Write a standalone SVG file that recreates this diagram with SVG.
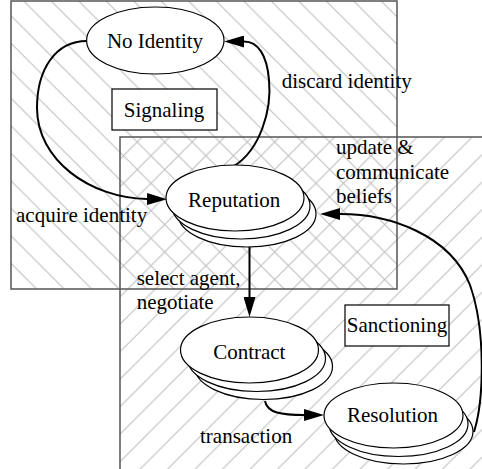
<svg xmlns="http://www.w3.org/2000/svg" width="482" height="469" viewBox="0 0 482 469">
<style>
text{font-family:"Liberation Serif","Times New Roman",serif;font-size:21px;fill:#000}
.n{text-anchor:middle}
.el{fill:#fff;stroke:#000;stroke-width:1.2}
.lb{fill:#fff;stroke:#000;stroke-width:1.2}
.frame{fill:none;stroke:#555;stroke-width:1.5}
.hatch{stroke:#bbb;stroke-width:1;fill:none}
.edge{fill:none;stroke:#000;stroke-width:2;marker-end:url(#ah)}
</style>
<defs>
<pattern id="pBack" patternUnits="userSpaceOnUse" width="27.5" height="27.5" patternTransform="translate(22.7,0)">
<path class="hatch" d="M-1,-1 L28.5,28.5 M-2,25.5 L2,29.5 M25.5,-2 L29.5,2"/>
</pattern>
<pattern id="pFwd" patternUnits="userSpaceOnUse" width="27.5" height="27.5" patternTransform="translate(4.2,0)">
<path class="hatch" d="M-1,28.5 L28.5,-1 M-2,2 L2,-2 M25.5,29.5 L29.5,25.5"/>
</pattern>
<marker id="ah" markerUnits="userSpaceOnUse" markerWidth="20" markerHeight="12" viewBox="0 0 20 12" refX="0" refY="6" orient="auto">
<path d="M0,0 L20,6 L0,12 z" fill="#000"/>
</marker>
</defs>
<rect width="482" height="469" fill="#fff"/>
<g id="clusters">
<rect x="11" y="1" width="386" height="288" fill="url(#pBack)"/>
<rect x="120" y="137" width="400" height="400" fill="url(#pFwd)"/>
<rect class="frame" x="11" y="1" width="386" height="288"/>
<rect class="frame" x="120" y="137" width="400" height="400"/>
</g>
<g id="signaling-label">
<rect class="lb" x="112" y="89" width="105" height="41"/>
<text class="n" x="164" y="117">Signaling</text>
</g>
<g id="sanctioning-label">
<rect class="lb" x="345" y="305" width="104" height="41"/>
<text class="n" x="397" y="332">Sanctioning</text>
</g>
<g id="connectors">
<path class="edge" d="M87,41 C55,41 37,70 37,108 C37,160 90,198 147,199"/>
<path class="edge" d="M234,166 C260,150 272,110 269,80 C267,55 258,41.5 244,41.5"/>
<path class="edge" d="M249.5,247 L249.5,297"/>
<path class="edge" d="M265,401 C267,413 282,415 304,415"/>
<path class="edge" d="M474,432 C484,400 486,330 470,285 C450,235 390,214 340,214"/>
<text x="16" y="222">acquire identity</text>
<text x="281.7" y="88">discard identity</text>
<text x="336" y="154">update &amp;</text>
<text x="336" y="178.5">communicate</text>
<text x="336" y="203">beliefs</text>
<text x="136.7" y="285">select agent,</text>
<text x="136.7" y="309">negotiate</text>
<text x="200" y="443">transaction</text>
</g>
<g id="no-identity">
<ellipse class="el" cx="155.3" cy="40.5" rx="68.7" ry="33.5"/>
<text class="n" x="155" y="48">No Identity</text>
</g>
<g id="reputation">
<ellipse class="el" cx="247" cy="214" rx="69" ry="33"/>
<ellipse class="el" cx="241" cy="206" rx="69" ry="33"/>
<ellipse class="el" cx="235" cy="198" rx="69" ry="33"/>
<text class="n" x="234.2" y="206.5">Reputation</text>
</g>
<g id="contract">
<ellipse class="el" cx="263.5" cy="366.5" rx="69" ry="33"/>
<ellipse class="el" cx="256.5" cy="358.5" rx="69" ry="33"/>
<ellipse class="el" cx="249.5" cy="350" rx="69" ry="33"/>
<text class="n" x="249.3" y="359">Contract</text>
</g>
<g id="resolution">
<ellipse class="el" cx="403.5" cy="431.5" rx="69.5" ry="32.5"/>
<ellipse class="el" cx="398.5" cy="424" rx="69.5" ry="32.5"/>
<ellipse class="el" cx="393.5" cy="415.5" rx="69.5" ry="32.5"/>
<text class="n" x="392.5" y="422">Resolution</text>
</g>
</svg>
